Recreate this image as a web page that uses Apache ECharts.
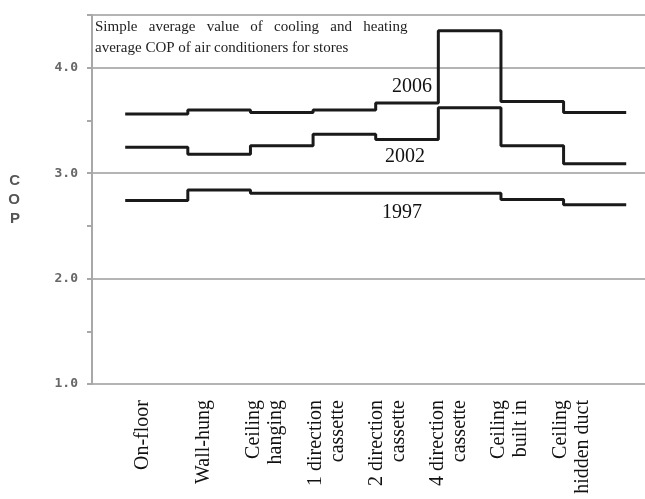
<!DOCTYPE html>
<html>
<head>
<meta charset="utf-8">
<script src="https://cdn.jsdelivr.net/npm/echarts@6/dist/echarts.min.js"></script>
<style>
  html, body { margin: 0; padding: 0; background: #ffffff; }
  #chart { width: 645px; height: 499px; }
</style>
</head>
<body>
<div id="chart"></div>
<script>
// ---- Data ----
const categories = [
  'On-floor',
  'Wall-hung',
  'Ceiling\nhanging',
  '1 direction\ncassette',
  '2 direction\ncassette',
  '4 direction\ncassette',
  'Ceiling\nbuilt in',
  'Ceiling\nhidden duct'
];
const cop2006 = [3.56, 3.60, 3.575, 3.60, 3.665, 4.35, 3.68, 3.575];
const cop2002 = [3.245, 3.18, 3.26, 3.37, 3.32, 3.62, 3.26, 3.09];
const cop1997 = [2.74, 2.84, 2.81, 2.81, 2.81, 2.81, 2.75, 2.70];
const seriesNames = ['2006', '2002', '1997'];
const titleText = 'Simple   average   value   of   cooling   and   heating\naverage COP of air conditioners for stores';
const yAxisName = 'C\nO\nP';

// Build step points: each category occupies one unit band [i, i+1]
function toSteps(values) {
  const pts = values.map((v, i) => [i, v]);
  pts.push([values.length, values[values.length - 1]]);
  return pts;
}

const chart = echarts.init(document.getElementById('chart'), null, { renderer: 'canvas' });

const lineStyle = { color: '#1a1a1a', width: 3 };
const serif = 'Liberation Serif';

const option = {
  animation: false,
  backgroundColor: '#ffffff',
  title: {
    text: titleText,
    left: 90,
    top: 12,
    textStyle: {
      fontFamily: serif,
      fontSize: 15,
      fontWeight: 'normal',
      color: '#222',
      lineHeight: 21
    }
  },
  grid: [
    { left: 92, right: 0, top: 15, bottom: 115 },
    { left: 112, width: 490, top: 15, bottom: 115 }
  ],
  xAxis: [
    {
      type: 'value',
      gridIndex: 0,
      min: -0.53,
      max: 8.3,
      axisLine: { show: false, onZero: false },
      axisTick: { show: false },
      axisLabel: { show: false },
      splitLine: { show: false }
    },
    {
      type: 'category',
      gridIndex: 1,
      data: categories,
      boundaryGap: true,
      axisLine: { show: false },
      axisTick: { show: false },
      splitLine: { show: false },
      axisLabel: {
        interval: 0,
        rotate: 90,
        margin: 16,
        fontFamily: serif,
        fontSize: 20,
        lineHeight: 22,
        color: '#111'
      }
    }
  ],
  yAxis: [
    {
      type: 'value',
      gridIndex: 0,
      min: 1,
      max: 4.5,
      interval: 1,
      position: 'left',
      name: yAxisName,
      nameLocation: 'middle',
      nameRotate: 0,
      nameGap: 72,
      nameTextStyle: {
        fontFamily: 'Liberation Sans',
        fontWeight: 'bold',
        fontSize: 15,
        lineHeight: 19,
        color: '#555'
      },
      axisLine: { show: true, onZero: false, lineStyle: { color: '#a8a8a8', width: 2 } },
      axisTick: { show: true, length: 5, lineStyle: { color: '#a8a8a8', width: 2 } },
      axisLabel: {
        margin: 14,
        fontFamily: 'DejaVu Sans Mono',
        fontWeight: 'bold',
        fontSize: 13,
        color: '#666',
        formatter: function (v) { return v > 4.25 ? '' : v.toFixed(1); }
      },
      splitLine: { show: true, lineStyle: { color: '#b4b4b4', width: 2 } }
    },
    {
      type: 'value',
      gridIndex: 0,
      min: 1,
      max: 4.5,
      interval: 0.5,
      position: 'left',
      axisLine: { show: false, onZero: false },
      axisTick: { show: true, length: 5, lineStyle: { color: '#a8a8a8', width: 2 } },
      axisLabel: { show: false },
      splitLine: { show: false }
    },
    {
      type: 'value',
      gridIndex: 1,
      show: false
    }
  ],
  graphic: [
    { type: 'text', left: 392, top: 77, style: { text: seriesNames[0], font: '20px "Liberation Serif"', fill: '#111' } },
    { type: 'text', left: 385, top: 147, style: { text: seriesNames[1], font: '20px "Liberation Serif"', fill: '#111' } },
    { type: 'text', left: 382, top: 203, style: { text: seriesNames[2], font: '20px "Liberation Serif"', fill: '#111' } }
  ],
  series: [
    { name: seriesNames[0], type: 'line', xAxisIndex: 0, yAxisIndex: 0, step: 'end', symbol: 'none', lineStyle: lineStyle, data: toSteps(cop2006) },
    { name: seriesNames[1], type: 'line', xAxisIndex: 0, yAxisIndex: 0, step: 'end', symbol: 'none', lineStyle: lineStyle, data: toSteps(cop2002) },
    { name: seriesNames[2], type: 'line', xAxisIndex: 0, yAxisIndex: 0, step: 'end', symbol: 'none', lineStyle: lineStyle, data: toSteps(cop1997) }
  ]
};

chart.setOption(option);
</script>
</body>
</html>
